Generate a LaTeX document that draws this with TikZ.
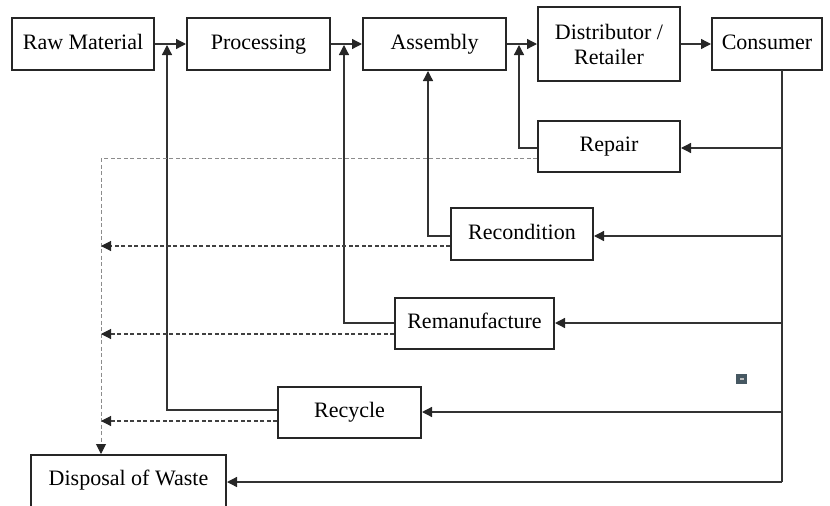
\documentclass[tikz,border=0pt]{standalone}
\usepackage{fontspec}
\setmainfont{Liberation Serif}
\usetikzlibrary{arrows.meta}
\definecolor{slate}{RGB}{70,88,98}
\begin{document}
\begin{tikzpicture}[x=1pt,y=-1pt,
  box/.style={draw=black!85, line width=2pt, minimum height=52pt, inner sep=0pt,
    font=\fontsize{22}{25}\selectfont, align=center, fill=white,
    text height=15pt, text depth=5pt},
  headtip/.style={-{Triangle[length=10pt,width=10pt,color=black!85]}},
  conn/.style={draw=black!80, line width=1.3pt},
  wastedash/.style={draw=black!75, line width=1.1pt, dash pattern=on 4pt off 2.5pt},
  graydash/.style={draw=black!45, line width=1pt, dash pattern=on 4pt off 2.5pt}
]
\useasboundingbox (0,0) rectangle (830,506);

\node[box, minimum width=142pt] (raw) at (83,44) {Raw Material};
\node[box, minimum width=143pt] (proc) at (258.5,44) {Processing};
\node[box, minimum width=143pt] (asm) at (434.5,44) {Assembly};
\node[box, minimum width=142pt, minimum height=74pt, text height=, text depth=] (dist) at (609,44) {Distributor /\\Retailer};
\node[box, minimum width=110pt] (cons) at (767,44) {Consumer};
\node[box, minimum width=142pt, minimum height=51pt] (rep) at (609,146.5) {Repair};
\node[box, minimum width=142pt] (rec) at (522,234) {Recondition};
\node[box, minimum width=159pt, minimum height=51pt] (rem) at (474.5,323.5) {Remanufacture};
\node[box, minimum width=143pt, minimum height=51pt] (recy) at (349.5,412.5) {Recycle};
\node[box, minimum width=195pt, minimum height=62pt, anchor=north] (disp) at (128.5,454) {};
\node[font=\fontsize{22}{25}\selectfont, text height=15pt, text depth=5pt] (disptext) at (128.5,480) {Disposal of Waste};

% forward chain
\draw[conn, headtip] (raw.east) -- (proc.west);
\draw[conn, headtip] (proc.east) -- (asm.west);
\draw[conn, headtip] (asm.east) -- (dist.west);
\draw[conn, headtip] (dist.east) -- (cons.west);

% consumer trunk
\coordinate (ttop) at (782,70);
\coordinate (tbot) at (782,482);
\draw[conn] (ttop) -- (tbot);
\draw[conn, headtip] (tbot) -- (disp.east |- tbot);
\draw[conn, headtip] (782,148) -- (rep.east |- 0,148);
\draw[conn, headtip] (782,236) -- (rec.east |- 0,236);
\draw[conn, headtip] (782,323) -- (rem.east |- 0,323);
\draw[conn, headtip] (782,412) -- (recy.east |- 0,412);

% return loops
\coordinate (j1) at (167,45);
\coordinate (j2) at (344,45);
\coordinate (j3) at (519,45);
\draw[conn, headtip] (rep.west |- 0,148) -- (519,148) -- (j3);
\draw[conn, headtip] (rec.west |- 0,236) -- (428,236) -- (asm.south -| 428,0);
\draw[conn, headtip] (rem.west |- 0,323) -- (344,323) -- (j2);
\draw[conn, headtip] (recy.west |- 0,410) -- (167,410) -- (j1);

% waste (dashed)
\coordinate (wtop) at (101,158);
\draw[graydash] (rep.west |- 0,158) -- (wtop);
\draw[graydash, headtip] (wtop) -- (disp.north -| wtop);
\draw[wastedash, headtip] (rec.west |- 0,246) -- (101,246);
\draw[wastedash, headtip] (rem.west |- 0,334) -- (101,334);
\draw[wastedash, headtip] (recy.west |- 0,421) -- (101,421);

% small mark
\fill[slate] (736,374) rectangle (747,384);
\fill[black!25] (739.5,377.5) rectangle (743.5,380);
\end{tikzpicture}
\end{document}
